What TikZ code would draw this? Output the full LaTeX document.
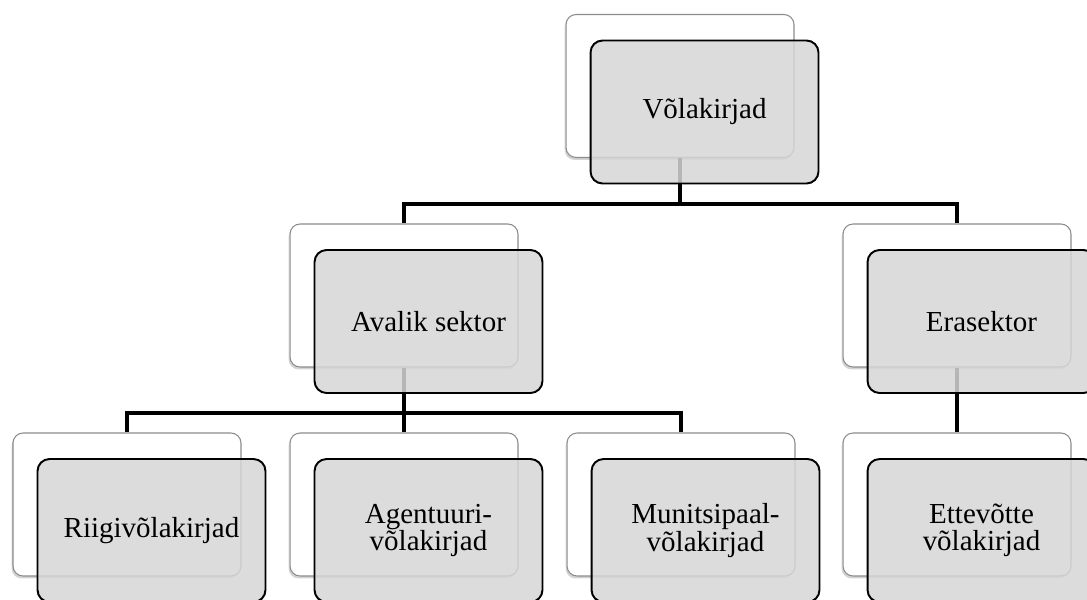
\documentclass[tikz,border=0pt]{standalone}
\usepackage{fontspec}
\setmainfont{Liberation Serif}
\usetikzlibrary{shadows,calc}
\begin{document}
\begin{tikzpicture}[x=0.02cm,y=-0.02cm,
		backbox/.style={rectangle,rounded corners=0.2cm,draw=black!45,line width=0.6pt,fill=white,minimum width=4.56cm,minimum height=2.86cm,drop shadow={shadow xshift=-0.8pt,shadow yshift=-1.4pt,opacity=0.35}},
		frontbox/.style={rectangle,rounded corners=0.24cm,draw=black,line width=1.1pt,fill=black!16,fill opacity=0.85,text opacity=1,minimum width=4.56cm,minimum height=2.86cm,align=center,font=\fontsize{16.5}{15.5}\selectfont},
		link/.style={line width=2.8pt}]
			\useasboundingbox (0,0) rectangle (1087,599);
			\clip (0,0) rectangle (1087,599);
			\node (vola-b) [backbox] at (680,86) {};
			\node (avalik-b) [backbox] at (404,295.5) {};
			\node (era-b) [backbox] at (957,295.5) {};
			\node (riigi-b) [backbox] at (127,504.5) {};
			\node (agent-b) [backbox] at (404,504.5) {};
			\node (munits-b) [backbox] at (681,504.5) {};
			\node (ettev-b) [backbox] at (957,504.5) {};
			\coordinate (bar1) at (0,204);
			\coordinate (bar2) at (0,413);
			\draw [link] (vola-b.south) -- (vola-b.south |- bar1);
			\draw [link] (avalik-b.north) -- (avalik-b.north |- bar1) -- (era-b.north |- bar1) -- (era-b.north);
			\draw [link] (avalik-b.south) -- (avalik-b.south |- bar2);
			\draw [link] (riigi-b.north) -- (riigi-b.north |- bar2) -- (munits-b.north |- bar2) -- (munits-b.north);
			\draw [link] (agent-b.north) -- (agent-b.north |- bar2);
			\draw [link] (era-b.south) -- (ettev-b.north);
			\node (vola) [frontbox] at ($(vola-b)+(24.5,26)$) {Võlakirjad};
			\node (avalik) [frontbox] at ($(avalik-b)+(24.5,26)$) {Avalik sektor};
			\node (era) [frontbox] at ($(era-b)+(24.5,26)$) {Erasektor};
			\node (riigi) [frontbox] at ($(riigi-b)+(24.5,26)$) {Riigivõlakirjad};
			\node (agent) [frontbox] at ($(agent-b)+(24.5,26)$) {Agentuuri-\\võlakirjad};
			\node (munits) [frontbox] at ($(munits-b)+(24.5,26)$) {Munitsipaal-\\võlakirjad};
			\node (ettev) [frontbox] at ($(ettev-b)+(24.5,26)$) {Ettevõtte\\võlakirjad};
		\end{tikzpicture}
\end{document}
